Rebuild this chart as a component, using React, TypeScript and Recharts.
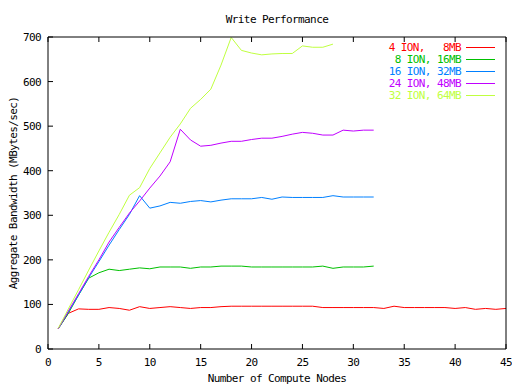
import { LineChart, Line, XAxis, YAxis } from "recharts";

// compute nodes on the x axis
const nodes = [
  1, 2, 3, 4, 5, 6, 7, 8, 9, 10, 11, 12, 13, 14, 15, 16, 17, 18, 19, 20, 21, 22,
  23, 24, 25, 26, 27, 28, 29, 30, 31, 32, 33, 34, 35, 36, 37, 38, 39, 40, 41, 42,
  43, 44, 45,
];

// aggregate bandwidth, MBytes/sec
const ion4 = [
  46, 80, 90, 89, 89, 93, 91, 87, 95, 91, 93, 95, 93, 91, 93, 93, 95, 96, 96, 96,
  96, 96, 96, 96, 96, 96, 93, 93, 93, 93, 93, 93, 91, 96, 93, 93, 93, 93, 93, 91,
  93, 89, 91, 89, 91,
];
const ion8 = [
  45, 80, 121, 159, 171, 179, 176, 179, 182, 180, 184, 184, 184, 181, 184, 184,
  186, 186, 186, 184, 184, 184, 184, 184, 184, 184, 186, 181, 184, 184, 184, 186,
];
const ion16 = [
  45, 83, 121, 160, 196, 233, 268, 302, 344, 316, 321, 329, 327, 331, 333, 330,
  334, 337, 337, 337, 340, 336, 341, 340, 340, 340, 340, 344, 341, 341, 341, 341,
];
const ion24 = [
  45, 85, 124, 163, 200, 240, 273, 305, 332, 361, 388, 420, 493, 469, 455, 457,
  462, 466, 466, 470, 473, 473, 477, 482, 486, 484, 480, 480, 491, 489, 491, 491,
];
const ion32 = [
  46, 90, 133, 177, 220, 262, 302, 345, 362, 405, 440, 475, 505, 540, 560, 583,
  637, 699, 670, 664, 660, 662, 663, 663, 680, 677, 677, 684,
];

const seriesNames = [
  "4 ION,   8MB",
  "8 ION, 16MB",
  "16 ION, 32MB",
  "24 ION, 48MB",
  "32 ION, 64MB",
];
const seriesColors = ["#ff0000", "#00c000", "#0080ff", "#c000ff", "#c0ff40"];
const seriesValues = [ion4, ion8, ion16, ion24, ion32];

const xTicks = [0, 5, 10, 15, 20, 25, 30, 35, 40, 45];
const yTicks = [0, 100, 200, 300, 400, 500, 600, 700];

const data = nodes.map((n, i) => {
  const row: Record<string, number> = { nodes: n };
  seriesValues.forEach((vals, s) => {
    if (i < vals.length) row["s" + s] = vals[i];
  });
  return row;
});

const mono = {
  fontFamily: "'DejaVu Sans Mono', monospace",
  fontSize: 11,
  letterSpacing: "-0.6px",
};

const black = { stroke: "#000" };

// tick lines point inward (negative tickSize); labels drawn here
function BottomLabel({ x, y, payload }: any) {
  return (
    <text x={x} y={y + 22} textAnchor="middle" fill="#000" style={mono}>
      {payload.value}
    </text>
  );
}

function LeftLabel({ x, y, payload }: any) {
  return (
    <text x={x - 12} y={y + 4} textAnchor="end" fill="#000" style={mono}>
      {payload.value}
    </text>
  );
}

const noLabel = () => <g />;

export default function App() {
  return (
    <div style={{ position: "absolute", left: 0, top: 0, background: "#fff" }}>
      <LineChart
        width={512}
        height={384}
        data={data}
        margin={{ top: 36, right: 5, bottom: 5, left: 8 }}
      >
        <XAxis
          dataKey="nodes"
          type="number"
          domain={[0, 45]}
          ticks={xTicks}
          height={30}
          tickSize={-5}
          tickMargin={0}
          tickLine={black}
          axisLine={black}
          tick={<BottomLabel />}
          interval={0}
        />
        <XAxis
          xAxisId="top"
          orientation="top"
          dataKey="nodes"
          type="number"
          domain={[0, 45]}
          ticks={xTicks}
          height={1}
          tickSize={-5}
          tickMargin={0}
          tickLine={black}
          axisLine={black}
          tick={noLabel}
          interval={0}
        />
        <YAxis
          type="number"
          domain={[0, 700]}
          ticks={yTicks}
          width={40}
          tickSize={-5}
          tickMargin={0}
          tickLine={black}
          axisLine={black}
          tick={<LeftLabel />}
          interval={0}
        />
        <YAxis
          yAxisId="right"
          orientation="right"
          type="number"
          domain={[0, 700]}
          ticks={yTicks}
          width={1}
          tickSize={-5}
          tickMargin={0}
          tickLine={black}
          axisLine={black}
          tick={noLabel}
          interval={0}
        />
        {seriesNames.map((name, s) => (
          <Line
            key={name}
            dataKey={"s" + s}
            name={name}
            stroke={seriesColors[s]}
            strokeWidth={1}
            dot={false}
            activeDot={false}
            isAnimationActive={false}
          />
        ))}
        {seriesNames.map((name, s) => (
          <g key={"key" + s}>
            <text
              x={461}
              y={51 + s * 11.9}
              textAnchor="end"
              fill={seriesColors[s]}
              style={{ ...mono, whiteSpace: "pre" }}
            >
              {name}
            </text>
            <rect
              x={466}
              y={47 + Math.round(s * 11.9)}
              width={29}
              height={1}
              fill={seriesColors[s]}
            />
          </g>
        ))}
        <text x={277} y={23} textAnchor="middle" fill="#000" style={mono}>
          Write Performance
        </text>
        <text x={277} y={382} textAnchor="middle" fill="#000" style={mono}>
          Number of Compute Nodes
        </text>
        <text
          x={17}
          y={193}
          transform="rotate(-90, 17, 193)"
          textAnchor="middle"
          fill="#000"
          style={mono}
        >
          Aggregate Bandwidth (MBytes/sec)
        </text>
      </LineChart>
    </div>
  );
}
